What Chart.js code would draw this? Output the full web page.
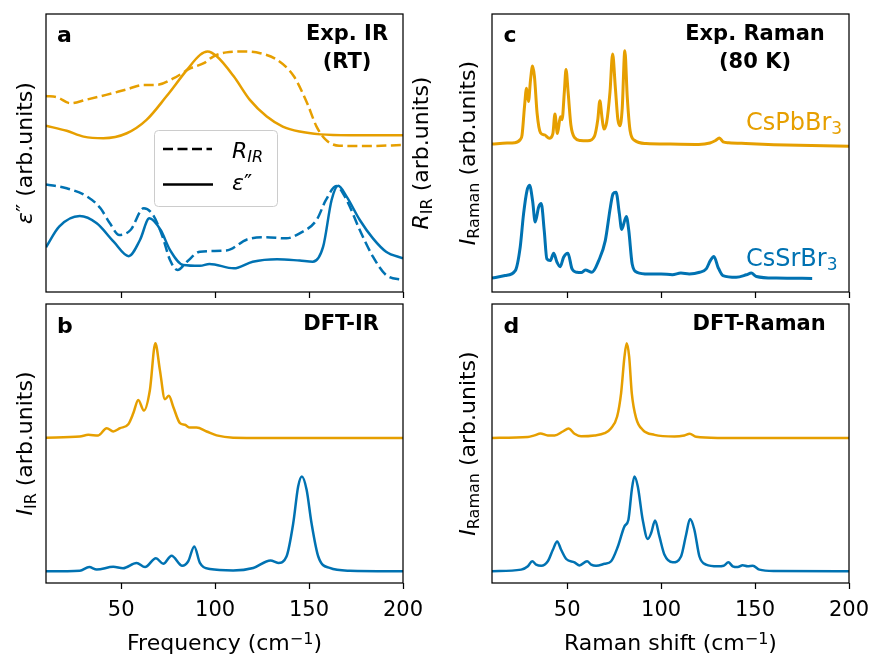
<!DOCTYPE html>
<html>
<head>
<meta charset="utf-8">
<script src="https://cdn.jsdelivr.net/npm/chart.js@4.4.1/dist/chart.umd.min.js"></script>
<style>
  body { margin: 0; background: #fff; }
  #wrap { position: relative; width: 870px; height: 655px; }
  #wrap canvas { position: absolute; left: 0; top: 0; }
</style>
</head>
<body>
<div id="wrap">
  <canvas id="panelA" width="870" height="655"></canvas>
  <canvas id="panelB" width="870" height="655"></canvas>
  <canvas id="panelC" width="870" height="655"></canvas>
  <canvas id="panelD" width="870" height="655"></canvas>
</div>
<script>
// ---- data (arb. units on a 0..100 panel scale) ----
var xTickValues = [50, 100, 150, 200];

// a: exp IR, CsPbBr3 (orange) and CsSrBr3 (blue)
var pbEpsF = [10, 21, 30, 40.5, 53, 63.5, 74, 85, 92, 96, 101, 110, 118.5, 127.5, 136, 145, 156, 172, 200];
var pbEpsV = [59.8, 58.0, 55.9, 55.3, 57.1, 61.9, 70.3, 79.9, 85.3, 86.5, 84.7, 77.5, 69.1, 63.1, 59.5, 57.7, 56.7, 56.4, 56.4];
var pbReflF = [10, 16, 23, 31, 42, 53, 62, 69, 78, 87, 94, 99, 106, 115, 124, 133, 142, 149, 154, 159, 166, 181, 200];
var pbReflV = [70.5, 70.0, 67.9, 69.1, 70.9, 72.9, 74.5, 74.5, 76.9, 80.5, 82.3, 84.7, 86.2, 86.5, 85.9, 83.5, 77.5, 67.9, 59.5, 54.7, 52.6, 52.5, 52.9];
var srEpsF = [10, 17, 28, 37, 46, 54, 60, 65, 71, 76, 83, 92, 97, 110, 120, 133, 145, 152, 157.5, 162, 165.5, 170, 177, 184, 191, 200];
var srEpsV = [16.1, 23.5, 27.3, 24.7, 18.1, 12.9, 18.7, 26.5, 22.3, 15.1, 9.7, 9.4, 10.1, 8.5, 10.9, 11.8, 11.3, 10.9, 16.3, 33.1, 38.2, 34.3, 25.9, 19.3, 14.5, 12.1];
var srReflF = [10, 21, 32, 39, 44, 49, 55, 62, 67, 72, 76, 80, 85, 92, 106, 117, 127, 138, 145, 154, 159, 164.5, 170, 177, 184, 191, 200];
var srReflV = [38.7, 37.3, 34.3, 30.1, 24.7, 20.5, 22.3, 30.1, 27.7, 19.9, 11.5, 7.9, 10.9, 14.5, 14.9, 18.9, 19.7, 19.3, 21.1, 25.9, 33.1, 38.1, 33.1, 22.3, 12.7, 6.1, 4.3];

// b: DFT IR
var pbDftIrF = [10, 28, 32.5, 37.8, 42.3, 45.8, 49.4, 53.8, 56.5, 59.1, 62.1, 65.3, 68.2, 70.6, 73.3, 75.4, 77.7, 81.3, 83.9, 86.6, 90.1, 95.5, 100.8, 109.6, 127, 200];
var pbDftIrV = [52.1, 52.5, 53.1, 52.9, 55.5, 54.3, 55.5, 56.9, 60.9, 65.6, 61.8, 69.2, 85.9, 76.4, 65.9, 67.1, 63.2, 57.3, 56.7, 55.7, 55.7, 54.3, 52.9, 52.1, 52.0, 52.0];
var srDftIrF = [10, 28, 33, 37, 45.8, 51, 58.2, 62.7, 68.5, 72.4, 76.8, 82.5, 85.7, 88.9, 91.9, 97.2, 109.6, 120.3, 129.5, 133.6, 138, 141.6, 144.2, 146.2, 148.7, 151.3, 154.9, 161, 171.7, 200];
var srDftIrV = [4.2, 4.4, 5.7, 4.8, 5.8, 5.3, 7.2, 5.7, 8.9, 6.9, 9.8, 6.2, 7.8, 13.1, 7.2, 5.0, 4.5, 5.4, 8.1, 7.2, 9.5, 21.5, 34.6, 38.2, 33.4, 21.5, 9.5, 5.4, 4.4, 4.2];

// c: exp Raman (80 K)
var pbRamF = [10, 18, 22, 25, 26, 27.3, 28.4, 29.4, 30.5, 31.6, 32.6, 34, 35.8, 38, 40.5, 42.4, 43.5, 44.8, 46.4, 47.3, 48.5, 49.4, 50.5, 52, 54, 57, 61, 64.5, 66.3, 67.4, 68.5, 69.5, 71, 72.8, 74.2, 75.6, 77, 78.1, 79.3, 80.7, 82, 83.5, 86, 92, 105, 120, 126, 129, 131, 133, 136, 145, 160, 180, 200];
var pbRamV = [53.2, 53.6, 53.7, 54.8, 56.5, 66.7, 73.3, 68.5, 76.3, 81.3, 77.5, 64.3, 57.3, 56.5, 55.3, 57.0, 64.0, 57.0, 63.0, 62.0, 72.0, 80.0, 72.0, 60.0, 55.5, 54.5, 54.4, 56.0, 62.0, 68.8, 63.0, 58.6, 61.0, 72.0, 85.6, 74.0, 62.0, 59.8, 66.0, 86.8, 70.0, 58.0, 54.5, 53.4, 53.2, 53.1, 53.6, 54.5, 55.4, 54.0, 53.7, 53.4, 53.0, 52.7, 52.4];
var srRamF = [10, 17, 22.4, 25, 26.8, 28.6, 30, 31.6, 33, 34.8, 36.2, 37.8, 39.2, 41, 42.8, 44.6, 46.3, 48.1, 50.4, 52.6, 55.2, 57.5, 59.7, 63.2, 66.8, 70.3, 73, 74.4, 76, 77.8, 79, 81.5, 82.8, 84.6, 87.2, 93.4, 100, 106, 110.5, 115, 120.5, 124, 126.2, 128.1, 130.3, 132.9, 140, 145.4, 148, 150.7, 161.3, 180.4];
var srRamV = [5.0, 5.9, 7.7, 16.1, 28.1, 36.4, 38.4, 32.8, 25.2, 30.5, 31.8, 22.1, 11.9, 11.3, 13.9, 10.7, 9.1, 12.5, 13.9, 8.3, 7.1, 7.0, 7.9, 7.1, 11.3, 18.5, 30.5, 35.3, 35.9, 28.1, 22.5, 27.2, 22.1, 10.1, 7.1, 6.5, 6.5, 6.2, 6.8, 6.5, 7.1, 8.3, 11.3, 12.8, 8.9, 5.9, 5.3, 6.2, 6.8, 5.6, 5.0, 4.9];

// d: DFT Raman
var pbDftRamF = [10, 29.1, 32.6, 35.8, 39.7, 43.3, 47.7, 50.7, 53.9, 57.4, 64.5, 69.9, 73.4, 76.6, 78.7, 80.5, 81.7, 83, 84.4, 86.7, 90.2, 96.5, 107.1, 112.4, 115.2, 118.6, 130.1, 200];
var pbDftRamV = [52.0, 52.3, 52.9, 53.6, 52.9, 52.9, 54.3, 55.4, 53.5, 52.6, 52.9, 53.7, 55.5, 59.7, 68.0, 81.1, 85.9, 81.1, 68.0, 59.1, 54.9, 53.1, 52.5, 52.9, 53.5, 52.4, 52.0, 52.0];
var srDftRamF = [10, 25.5, 29.1, 31.4, 33.5, 36.2, 39.7, 42.4, 44.7, 46.8, 49.5, 53.9, 56.6, 60.6, 62.8, 65.4, 69.9, 73.4, 77, 80.5, 82.6, 84.4, 85.8, 87.6, 90.2, 92.9, 94.7, 96.8, 99.1, 101.8, 106.2, 110.6, 113.3, 115.4, 117.7, 120.4, 123.9, 130.1, 133.3, 135.8, 138.1, 140.8, 143.4, 146.1, 148.8, 152.3, 160.3, 200];
var srDftRamV = [4.2, 4.8, 6.0, 7.8, 6.6, 6.2, 7.8, 11.9, 14.9, 11.9, 8.6, 7.4, 6.3, 7.8, 6.6, 6.2, 6.9, 7.8, 13.1, 20.3, 22.7, 33.4, 38.2, 34.6, 22.7, 15.8, 17.9, 22.4, 16.7, 10.1, 7.4, 9.5, 17.3, 22.9, 19.1, 9.5, 6.6, 6.0, 6.2, 7.4, 6.0, 5.7, 6.4, 6.0, 6.2, 4.8, 4.3, 4.2];

var ORANGE = '#E69F00';
var BLUE = '#0072B2';
var FONT = '"DejaVu Sans", sans-serif';
var AXIS_H = 40; // fixed height of the x scale box

function pts(fs, vs) {
  return fs.map(function (f, i) { return { x: f, y: vs[i] }; });
}

function line(fs, vs, color, dashed, width) {
  return {
    data: pts(fs, vs),
    borderColor: color,
    borderWidth: width || 2.5,
    borderDash: dashed ? [10, 4.5] : [],
    pointRadius: 0,
    fill: false,
    cubicInterpolationMode: 'monotone'
  };
}

// draws a row of text pieces: [text, size, style, dy]
function rich(ctx, parts, x, y, align, rot, color) {
  ctx.save();
  ctx.fillStyle = color || '#000';
  ctx.textBaseline = 'alphabetic';
  ctx.textAlign = 'left';
  var w = 0, widths = [];
  parts.forEach(function (p) {
    ctx.font = (p[2] || '') + ' ' + p[1] + 'px ' + FONT;
    var m = ctx.measureText(p[0]).width;
    widths.push(m);
    w += m;
  });
  var sx = align === 'center' ? -w / 2 : (align === 'right' ? -w : 0);
  ctx.translate(x, y);
  if (rot) ctx.rotate(rot);
  parts.forEach(function (p, i) {
    ctx.font = (p[2] || '') + ' ' + p[1] + 'px ' + FONT;
    ctx.fillText(p[0], sx, p[3] || 0);
    sx += widths[i];
  });
  ctx.restore();
}

function decor(drawText, drawAfterLines) {
  return {
    id: 'decor',
    afterDatasetsDraw: function (chart) {
      if (drawAfterLines) drawAfterLines(chart.ctx);
    },
    afterDraw: function (chart) {
      var ctx = chart.ctx, a = chart.chartArea;
      ctx.save();
      ctx.strokeStyle = '#000';
      ctx.lineWidth = 1.25;
      ctx.strokeRect(a.left, a.top, a.right - a.left, a.bottom - a.top);
      ctx.restore();
      drawText(ctx);
    }
  };
}

// box = [left, top, right, bottom] of the plot frame in page pixels
function makePanel(id, box, datasets, showLabels, plugin) {
  var pad = { left: box[0], top: box[1], right: 870 - box[2], bottom: 655 - box[3] - AXIS_H };
  return new Chart(document.getElementById(id), {
    type: 'line',
    data: { datasets: datasets },
    options: {
      responsive: false,
      animation: false,
      devicePixelRatio: 1,
      layout: { padding: pad },
      plugins: { legend: { display: false }, tooltip: { enabled: false } },
      scales: {
        x: {
          type: 'linear',
          min: 10,
          max: 200,
          afterFit: function (s) {
            s.height = AXIS_H;
            s.paddingLeft = 0;
            s.paddingRight = 0;
          },
          afterBuildTicks: function (s) {
            s.ticks = xTickValues.map(function (v) { return { value: v }; });
          },
          border: { display: false },
          grid: { drawOnChartArea: false, drawTicks: true, tickLength: 6, tickColor: '#000', tickWidth: 1.25 },
          ticks: {
            color: '#000',
            font: { family: FONT, size: 21 },
            padding: 9,
            maxRotation: 0,
            autoSkip: false,
            callback: function (v) { return showLabels ? String(v) : ''; }
          }
        },
        y: { display: false, min: 0, max: 100 }
      }
    },
    plugins: [plugin]
  });
}

var UP = -Math.PI / 2;

// panel a
makePanel('panelA', [46, 14, 403, 292], [
  line(pbReflF, pbReflV, ORANGE, true),
  line(pbEpsF, pbEpsV, ORANGE, false),
  line(srReflF, srReflV, BLUE, true),
  line(srEpsF, srEpsV, BLUE, false)
], false, decor(function (ctx) {
  rich(ctx, [['a', 22, 'bold']], 57, 42, 'left');
  rich(ctx, [['Exp. IR', 21, 'bold']], 347, 40, 'center');
  rich(ctx, [['(RT)', 21, 'bold']], 347, 68, 'center');
  rich(ctx, [['ε', 22, 'italic'], ['″', 22, ''], [' (arb.units)', 22, '']], 32, 153, 'center', UP);
  rich(ctx, [['R', 22, 'italic'], ['IR', 16, '', 4], [' (arb.units)', 22, '']], 428, 153, 'center', UP);
}, function (ctx) {
  ctx.save();
  ctx.beginPath();
  ctx.roundRect(154.5, 130.5, 123, 76, 4);
  ctx.fillStyle = 'rgba(255,255,255,0.8)';
  ctx.fill();
  ctx.strokeStyle = '#cccccc';
  ctx.lineWidth = 1;
  ctx.stroke();
  ctx.strokeStyle = '#000';
  ctx.lineWidth = 2.5;
  ctx.setLineDash([10, 4.5]);
  ctx.beginPath(); ctx.moveTo(163, 149); ctx.lineTo(212, 149); ctx.stroke();
  ctx.setLineDash([]);
  ctx.beginPath(); ctx.moveTo(163, 184.5); ctx.lineTo(213, 184.5); ctx.stroke();
  ctx.restore();
  rich(ctx, [['R', 22, 'italic'], ['IR', 16, 'italic', 4]], 232, 158, 'left');
  rich(ctx, [['ε', 22, 'italic'], ['″', 22, '']], 232, 190, 'left');
}));

// panel b
makePanel('panelB', [46, 304, 403, 583], [
  line(pbDftIrF, pbDftIrV, ORANGE, false),
  line(srDftIrF, srDftIrV, BLUE, false)
], true, decor(function (ctx) {
  rich(ctx, [['b', 22, 'bold']], 57, 333, 'left');
  rich(ctx, [['DFT-IR', 21, 'bold']], 379, 329.5, 'right');
  rich(ctx, [['I', 22, 'italic'], ['IR', 16, '', 4], [' (arb.units)', 22, '']], 32, 443.5, 'center', UP);
  rich(ctx, [['Frequency (cm', 22, ''], ['−1', 16, '', -6], [')', 22, '']], 224.5, 650, 'center');
}));

// panel c
makePanel('panelC', [492, 14, 849, 292], [
  line(pbRamF, pbRamV, ORANGE, false, 3),
  line(srRamF, srRamV, BLUE, false, 3)
], false, decor(function (ctx) {
  rich(ctx, [['c', 22, 'bold']], 503.5, 42, 'left');
  rich(ctx, [['Exp. Raman', 21, 'bold']], 755, 40, 'center');
  rich(ctx, [['(80 K)', 21, 'bold']], 755, 68, 'center');
  rich(ctx, [['I', 22, 'italic'], ['Raman', 16, '', 4], [' (arb.units)', 22, '']], 475, 153, 'center', UP);
  rich(ctx, [['CsPbBr', 24, ''], ['3', 17, '', 4]], 746, 130, 'left', 0, ORANGE);
  rich(ctx, [['CsSrBr', 24, ''], ['3', 17, '', 4]], 746, 266, 'left', 0, BLUE);
}));

// panel d
makePanel('panelD', [492, 304, 849, 583], [
  line(pbDftRamF, pbDftRamV, ORANGE, false),
  line(srDftRamF, srDftRamV, BLUE, false)
], true, decor(function (ctx) {
  rich(ctx, [['d', 22, 'bold']], 503.5, 333, 'left');
  rich(ctx, [['DFT-Raman', 21, 'bold']], 825.7, 329.5, 'right');
  rich(ctx, [['I', 22, 'italic'], ['Raman', 16, '', 4], [' (arb.units)', 22, '']], 475, 443.5, 'center', UP);
  rich(ctx, [['Raman shift (cm', 22, ''], ['−1', 16, '', -6], [')', 22, '']], 670.5, 650, 'center');
}));
</script>
</body>
</html>
